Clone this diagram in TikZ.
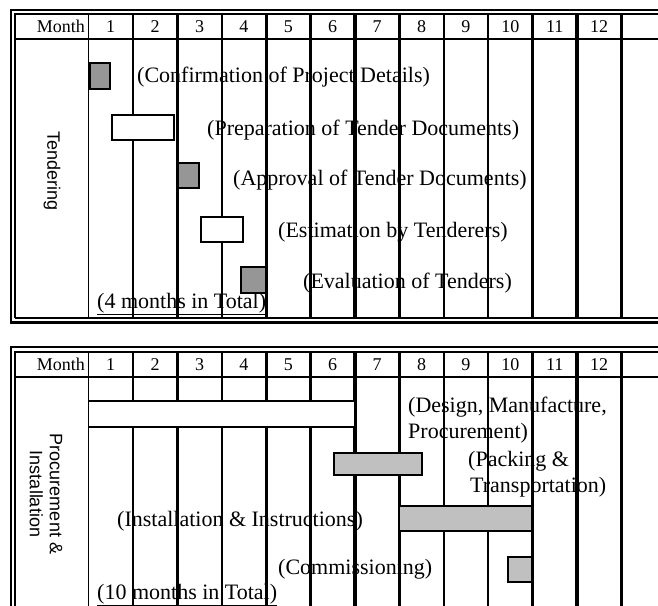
\documentclass[tikz,border=0pt]{standalone}
\usepackage{fontspec}
\setmainfont{Liberation Serif}
\setsansfont{Liberation Sans}
\definecolor{bardark}{RGB}{150,150,150}
\definecolor{barlight}{RGB}{192,192,192}
\tikzset{
  darkbar/.style={draw,line width=1.5pt,fill=bardark},
  lightbar/.style={draw,line width=1.5pt,fill=barlight},
  whitebar/.style={draw,line width=1.5pt,fill=white},
  task/.style={anchor=west,inner sep=0pt,align=left,font=\fontsize{22}{26}\selectfont},
  head/.style={inner sep=0pt,font=\fontsize{18}{21}\selectfont},
  phase/.style={rotate=-90,inner sep=0pt,align=center,font=\sffamily\fontsize{18}{20}\selectfont},
}
\begin{document}
\begin{tikzpicture}[x=1pt,y=-1pt]
\useasboundingbox (0,0) rectangle (658,605);
\clip (0,0) rectangle (658,605);
% Tendering
\draw[line width=2.6pt] (670,10) -- (11,10) -- (11,322.5) -- (670,322.5);
\draw[line width=1.6pt] (670,14) -- (15,14) -- (15,318);
\draw[line width=2.4pt] (15,318) -- (670,318);
\draw[line width=2.6pt] (15,39) -- (670,39);
\foreach \k/\w in {0/1.8,1/2.4,2/2.4,3/2.4,4/3.2,5/2.4,6/3.2,7/2.4,8/2.4,9/2.4,10/2.4,11/3.2,12/2.4}
  \draw[line width=\w pt] ({88.5+44.4*\k},14) -- ({88.5+44.4*\k},318);
\node[head,anchor=east] (montha) at (85,26.5) {Month};
\foreach \m in {1,...,12}
  \node[head] (ma\m) at ({66.3+44.4*\m},26.5) {\m};
\node[phase] (tendering) at (52,171) {Tendering};
\draw[darkbar] (90,63) rectangle (110,89);
\draw[whitebar] (112,115) rectangle (174,140);
\draw[darkbar] (178,163) rectangle (199,188);
\draw[whitebar] (201,217) rectangle (243,242);
\draw[darkbar] (241,267) rectangle (266,293);
\node[task] (confirm) at (137,77) {(Confirmation of Project Details)};
\node[task] (prepare) at (207,130) {(Preparation of Tender Documents)};
\node[task] (approve) at (233,180) {(Approval of Tender Documents)};
\node[task] (estimate) at (278,232) {(Estimation by Tenderers)};
\node[task] (evaluate) at (303,283) {(Evaluation of Tenders)};
\node[task] (totala) at (97,304) {\underline{(4 months in Total)}};
% Procurement & Installation
\draw[line width=2.6pt] (670,347) -- (11,347) -- (11,615);
\draw[line width=1.6pt] (670,352) -- (15,352) -- (15,615);
\draw[line width=2.6pt] (15,377) -- (670,377);
\foreach \k/\w in {0/1.8,1/2.4,2/2.4,3/2.4,4/3.2,5/2.4,6/3.2,7/2.4,8/2.4,9/2.4,10/2.4,11/3.2,12/2.4}
  \draw[line width=\w pt] ({88.5+44.4*\k},352) -- ({88.5+44.4*\k},615);
\node[head,anchor=east] (monthb) at (85,364.5) {Month};
\foreach \m in {1,...,12}
  \node[head] (mb\m) at ({66.3+44.4*\m},364.5) {\m};
\node[phase] (procure) at (46,494) {Procurement \&\\Installation};
\draw[whitebar] (88.5,401) rectangle (354.9,427);
\draw[lightbar] (334,453) rectangle (422,475);
\draw[lightbar] (399,506) rectangle (532,531);
\draw[lightbar] (508,557) rectangle (532,582);
\node[task] (design) at (408,420.5) {(Design, Manufacture,\\Procurement)};
\node[task] (packing) at (468,474.5) {(Packing \&\\\hspace*{2pt}Transportation)};
\node[task] (install) at (117,521.5) {(Installation \& Instructions)};
\node[task] (commission) at (278,569) {(Commissioning)};
\node[task] (totalb) at (97,595) {\underline{(10 months in Total)}};
\end{tikzpicture}
\end{document}
